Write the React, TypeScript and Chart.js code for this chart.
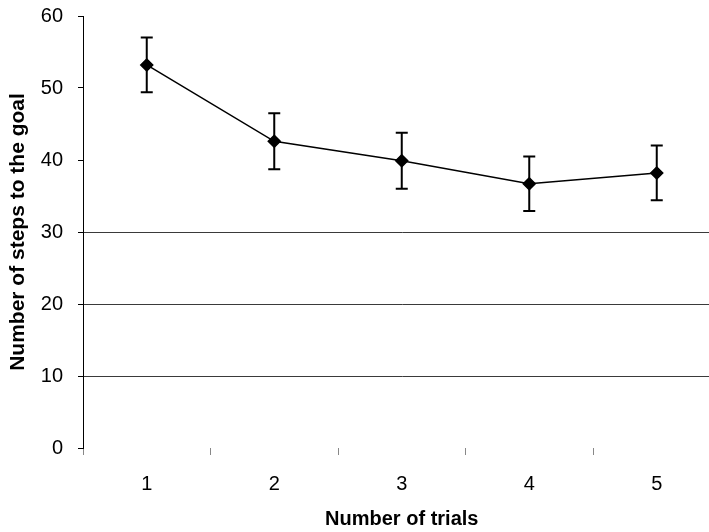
import React, { useEffect, useRef } from "react";
import { Chart, registerables } from "chart.js";

Chart.register(...registerables);

const trials = ["1", "2", "3", "4", "5"];
const meanSteps = [53.2, 42.6, 39.9, 36.7, 38.2];
const stepErrors = [3.8, 3.9, 3.9, 3.8, 3.8];
const yTicks = [0, 10, 20, 30, 40, 50, 60];
const gridValues = [10, 20, 30];

const errorBarPlugin = {
  id: "errorBars",
  beforeDatasetsDraw(chart: any) {
    const ctx = chart.ctx;
    const meta = chart.getDatasetMeta(0);
    const yScale = chart.scales.y;
    ctx.save();
    ctx.strokeStyle = "#000";
    ctx.lineWidth = 2;
    meta.data.forEach((pt: any, i: number) => {
      const x = pt.x;
      const yTop = yScale.getPixelForValue(meanSteps[i] + stepErrors[i]);
      const yBot = yScale.getPixelForValue(meanSteps[i] - stepErrors[i]);
      const cap = 6;
      ctx.beginPath();
      ctx.moveTo(x, yTop);
      ctx.lineTo(x, yBot);
      ctx.moveTo(x - cap, yTop);
      ctx.lineTo(x + cap, yTop);
      ctx.moveTo(x - cap, yBot);
      ctx.lineTo(x + cap, yBot);
      ctx.stroke();
    });
    ctx.restore();
  },
};

export default function App() {
  const ref = useRef<HTMLCanvasElement | null>(null);
  useEffect(() => {
    if (!ref.current) return;
    const font = "'Liberation Sans', Arial, sans-serif";
    const chart = new Chart(ref.current, {
      type: "line",
      data: {
        labels: trials,
        datasets: [
          {
            data: meanSteps,
            borderColor: "#000",
            borderWidth: 1.5,
            pointStyle: "rectRot",
            pointRadius: 6,
            pointBackgroundColor: "#000",
            pointBorderColor: "#000",
            tension: 0,
          },
        ],
      },
      options: {
        responsive: false,
        animation: false,
        events: [],
        layout: { padding: { top: 16, right: 2, left: 0, bottom: 0 } },
        plugins: { legend: { display: false }, tooltip: { enabled: false } },
        scales: {
          x: {
            type: "category",
            offset: true,
            border: { display: false },
            grid: {
              offset: true,
              drawOnChartArea: false,
              tickLength: 7,
              tickColor: "#888",
              color: "#888",
            },
            ticks: {
              color: "#000",
              font: { family: font, size: 20 },
              padding: 17,
              maxRotation: 0,
              autoSkip: false,
            },
            title: {
              display: true,
              text: "Number of trials",
              color: "#000",
              font: { family: font, size: 20, weight: "bold" },
              padding: { top: 10, bottom: 1 },
            },
            afterFit: (axis: any) => {
              axis.height = 84;
            },
          },
          y: {
            min: 0,
            max: 60,
            border: { display: true, color: "#000", width: 1 },
            grid: {
              color: (c: any) =>
                c.tick && gridValues.includes(c.tick.value) ? "#3a3a3a" : "rgba(0,0,0,0)",
              tickColor: "#000",
              tickLength: 5,
              lineWidth: 1,
            },
            afterBuildTicks: (axis: any) => {
              axis.ticks = yTicks.map((v) => ({ value: v }));
            },
            ticks: {
              color: "#000",
              font: { family: font, size: 20 },
              padding: 15,
            },
            title: {
              display: true,
              text: "Number of steps to the goal",
              color: "#000",
              font: { family: font, size: 21, weight: "bold" },
              padding: { top: 6, bottom: 4 },
            },
            afterFit: (axis: any) => {
              axis.width = 83;
              axis.paddingTop = 0;
              axis.paddingBottom = 0;
            },
          },
        },
      },
      plugins: [errorBarPlugin],
    });
    return () => chart.destroy();
  }, []);
  return (
    <div style={{ position: "fixed", left: 0, top: 0, width: 728, height: 532, background: "#fff" }}>
      <canvas ref={ref} width={728} height={532} style={{ display: "block", width: 728, height: 532 }} />
    </div>
  );
}
